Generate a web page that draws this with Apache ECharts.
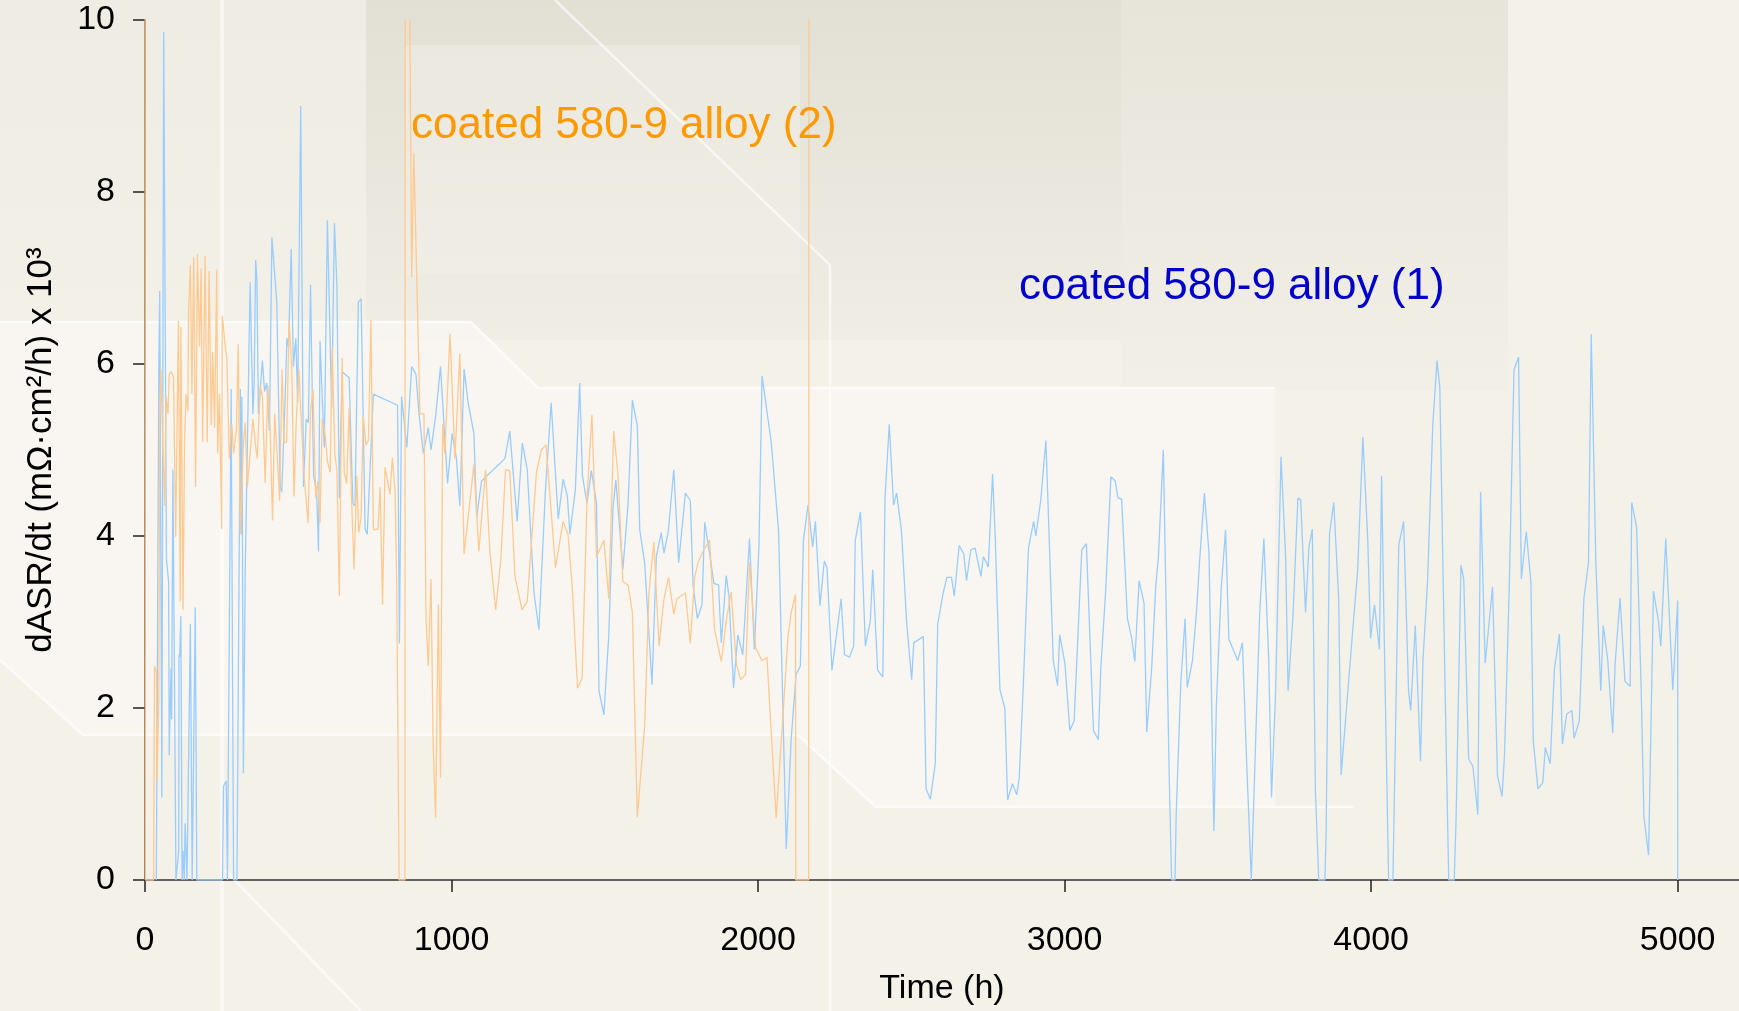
<!DOCTYPE html>
<html>
<head>
<meta charset="utf-8">
<script src="https://cdn.jsdelivr.net/npm/echarts@6/dist/echarts.min.js"></script>
<style>
  html, body { margin: 0; padding: 0; background: #f4f1e9; }
  #chart { width: 1739px; height: 1011px; }
</style>
</head>
<body>
<div id="chart"></div>
<script>
// coated 580-9 alloy (1) -- blue trace
var alloy1Hours = [37,39,45,48,55,61,70,77,79,85,87,91,101,104,110,111,113,117,121,124,128,131,137,142,148,154,159,164,169,253,256,265,269,274,281,289,300,311,313,316,321,327,343,352,356,361,365,370,383,390,397,406,414,430,441,446,455,463,468,477,484,492,498,508,517,526,533,540,550,560,566,571,580,585,595,609,618,626,634,643,666,678,685,696,705,718,725,745,824,830,837,854,870,884,894,908,924,933,949,964,987,1002,1016,1027,1041,1054,1073,1082,1098,1174,1190,1214,1231,1247,1269,1285,1306,1325,1348,1364,1378,1386,1404,1418,1427,1442,1456,1473,1481,1497,1513,1527,1536,1559,1576,1590,1606,1614,1630,1654,1668,1684,1693,1707,1725,1741,1747,1763,1779,1788,1802,1817,1826,1842,1856,1871,1880,1896,1905,1920,1934,1950,1972,1988,2003,2013,2043,2067,2092,2108,2124,2138,2148,2163,2178,2187,2202,2216,2225,2241,2271,2282,2298,2312,2317,2334,2350,2366,2374,2390,2407,2414,2428,2442,2452,2468,2485,2501,2508,2539,2548,2562,2578,2586,2604,2616,2631,2640,2656,2671,2680,2694,2708,2727,2735,2751,2765,2774,2789,2805,2814,2830,2844,2852,2866,2882,2899,2906,2922,2939,2963,2977,2984,3001,3017,3031,3056,3071,3094,3110,3118,3134,3151,3165,3174,3186,3205,3219,3229,3243,3259,3268,3284,3297,3306,3322,3341,3349,3360,3364,3379,3393,3400,3417,3430,3440,3456,3471,3487,3495,3511,3525,3536,3565,3580,3593,3609,3615,3636,3650,3666,3675,3688,3706,3721,3729,3745,3761,3770,3786,3797,3808,3818,3829,3849,3853,3864,3878,3894,3902,3918,3940,3956,3973,3989,3998,4011,4027,4034,4044,4057,4071,4090,4106,4122,4129,4144,4161,4169,4184,4201,4215,4224,4240,4253,4271,4277,4293,4302,4318,4332,4348,4357,4372,4396,4412,4427,4435,4450,4466,4481,4490,4506,4521,4529,4544,4560,4568,4584,4598,4614,4624,4638,4655,4662,4679,4694,4709,4718,4733,4749,4757,4772,4788,4796,4812,4828,4845,4850,4866,4881,4890,4905,4921,4937,4945,4961,4975,4984,5000,5000];
var alloy1Rate = [0,0,5.94,6.85,0.96,9.86,3.73,3.47,1.45,2.46,1.87,4.77,0,0,0.34,2.62,2.59,3.07,0,0.34,0,0.66,0,0,2.98,0,0,3.17,0,0,1.09,1.15,0,0,5.71,0,0,5.71,4.02,5.62,1.24,3.6,6.95,5.42,5.75,7.21,6.98,5.42,6.04,5.68,5.78,5.22,7.47,6.72,4.57,4.51,5.36,6.3,6.2,7.34,5.97,6.3,5.55,9.0,4.57,5.36,5.32,6.92,4.7,4.51,3.82,6.27,5.45,5.03,7.67,5.49,7.64,6.92,4.44,5.91,5.84,4.38,4.35,6.72,6.76,4.08,4.02,5.65,5.52,2.75,5.62,5.03,5.97,5.88,5.42,4.96,5.26,5.0,5.42,5.97,4.61,5.19,4.9,4.35,5.94,5.55,5.19,4.22,4.64,4.9,5.22,4.17,5.08,4.77,3.34,2.91,4.51,5.55,4.2,4.66,4.46,4.02,4.54,5.78,4.7,4.38,4.76,4.38,2.2,1.92,2.85,4.35,4.65,3.61,4.38,5.58,5.28,4.07,3.69,2.27,3.76,4.04,3.8,4.05,4.77,3.69,3.69,4.5,4.41,3.43,3.04,3.2,4.16,3.79,3.45,3.43,2.76,3.54,3.3,2.23,2.85,2.62,3.97,2.68,3.89,5.86,5.09,4.05,0.36,1.64,2.39,2.49,3.95,4.36,3.87,4.17,3.19,3.71,3.63,2.44,3.27,2.62,2.59,2.72,3.95,4.28,2.72,3.01,3.61,2.44,2.36,4.44,5.3,4.36,4.5,4.05,2.98,2.33,2.76,2.83,1.06,0.94,1.35,2.98,3.34,3.52,3.52,3.3,3.89,3.79,3.48,3.84,3.86,3.53,3.76,3.64,4.72,3.95,2.21,2.0,0.93,1.12,0.99,1.19,2.33,3.86,4.17,4.0,4.41,5.11,2.55,2.26,2.85,2.52,1.74,1.85,3.84,3.91,1.74,1.63,2.46,3.37,4.69,4.64,4.44,4.43,3.04,2.81,2.54,3.48,3.22,1.72,2.46,3.4,3.76,5.0,1.25,0,0,0.76,2.29,3.04,2.24,2.55,3.11,3.69,4.5,3.8,0.57,2.03,3.4,4.07,2.8,2.55,2.76,1.45,0,0,3.07,3.97,2.55,0.96,2.16,4.92,3.76,2.2,3.07,4.44,4.42,3.11,3.87,4.08,1.06,0,0,0.53,4.02,4.39,3.28,1.22,1.93,2.91,3.6,5.15,3.95,2.81,3.2,2.68,4.7,2.55,0,0,3.89,4.17,2.2,1.97,2.96,1.38,2.55,3.47,5.29,6.04,5.73,2.46,0,0,0.7,3.66,3.5,1.41,1.32,0.76,4.51,2.52,3.41,1.22,0.97,1.45,3.34,5.93,6.08,3.5,4.05,3.47,1.61,1.06,1.13,1.54,1.35,2.46,2.86,1.58,1.93,1.97,1.65,1.85,3.27,3.69,6.35,3.69,2.2,2.96,2.55,1.71,2.52,3.28,2.31,2.25,4.39,4.1,2.2,0.73,0.29,3.36,3.02,2.72,3.97,2.91,2.21,3.25,0];

// coated 580-9 alloy (2) -- orange trace
var alloy2Hours = [0,1,28,31,37,39,45,48,52,58,64,69,75,79,86,93,100,103,109,115,117,124,129,134,140,142,148,153,159,165,171,178,183,188,196,203,209,216,221,227,234,237,243,250,252,262,267,275,283,289,298,304,311,321,327,334,343,352,359,366,376,383,392,401,408,416,423,432,439,447,454,462,470,479,486,493,502,511,519,532,540,548,557,564,571,578,588,595,604,611,619,626,634,643,650,658,666,673,682,691,697,705,712,721,729,737,745,760,767,775,783,791,799,807,816,821,829,848,849,860,870,877,897,910,917,924,933,940,948,957,964,971,978,995,1011,1027,1041,1073,1089,1111,1125,1144,1161,1176,1190,1207,1230,1247,1277,1293,1308,1323,1339,1364,1380,1394,1411,1426,1442,1458,1473,1497,1513,1529,1543,1559,1576,1590,1606,1630,1644,1660,1677,1693,1708,1725,1735,1763,1779,1793,1804,1820,1842,1858,1880,1896,1912,1929,1943,1959,1972,1992,2013,2029,2059,2081,2097,2108,2122,2123,2165,2166];
var alloy2Rate = [12,0,0,2.49,2.42,1.15,2.03,5.36,5.94,5.09,4.35,5.62,5.42,5.88,5.91,5.84,3.99,3.99,6.5,3.24,6.43,3.14,5.09,5.65,5.45,6.59,7.15,5.65,7.24,4.57,7.28,6.2,7.11,5.09,7.26,5.09,7.08,5.29,6.14,5.26,7.1,4.96,5.65,4.08,6.56,6.2,6.07,4.9,5.3,4.96,5.22,6.23,4.02,5.06,5.32,4.57,4.96,5.36,5.1,4.9,5.75,5.62,4.62,5.75,5.26,4.18,5.42,4.9,4.41,5.94,5.09,5.09,6.5,5.94,4.46,5.29,5.94,5.26,4.7,4.15,5.45,5.71,4.44,4.64,4.15,5.36,5.16,4.87,4.74,6.2,4.96,4.77,3.3,6.07,4.74,4.61,5.49,4.52,3.61,4.7,4.04,4.22,5.39,5.06,5.11,6.51,4.07,4.08,4.57,3.2,4.8,4.64,4.48,4.91,4.51,3.47,0,0,12,12,7.01,8.45,5.42,5.42,3.01,2.49,3.5,1.58,0.72,3.2,1.19,5.3,4.96,6.35,4.9,6.12,3.79,4.83,3.82,4.77,3.82,3.14,3.73,4.77,4.76,3.53,3.14,3.24,4.74,5.0,5.06,4.38,3.63,4.17,4.02,3.4,2.23,2.35,4.44,5.41,3.76,3.95,3.27,5.22,4.72,3.47,3.43,3.11,0.73,1.79,3.34,3.93,2.72,3.27,3.52,3.09,3.27,3.34,2.75,3.52,3.69,3.82,3.95,2.91,2.54,3.01,3.35,2.52,2.33,2.39,3.69,2.7,2.55,2.59,0.72,1.9,2.81,3.11,3.32,0,0,12];

var timeTicks = [0, 1000, 2000, 3000, 4000, 5000];
var rateTicks = [0, 2, 4, 6, 8, 10];

function zip(xs, ys) { return xs.map(function(x, i) { return [x, ys[i]] }) }

var chart = echarts.init(document.getElementById('chart'), null, {renderer: 'canvas'});
var font = '"Liberation Sans", Arial, sans-serif';
var fade = function(top, bottom) {
  return new echarts.graphic.LinearGradient(0, 0, 0, 1, [{offset: 0, color: top}, {offset: 1, color: bottom}]);
};

chart.setOption({
  animation: false,
  backgroundColor: '#f4f1e9',
  graphic: [
    // soft background panels, like the slide template behind the plot
    {type: 'rect', z: -10, shape: {x: 0, y: 0, width: 366, height: 330}, style: {fill: fade('#efece4', '#f3f0e8')}},
    {type: 'rect', z: -10, shape: {x: 366, y: 0, width: 755, height: 340}, style: {fill: fade('#e2dfd4', '#f0ede5')}},
    {type: 'rect', z: -10, shape: {x: 405, y: 45, width: 395, height: 230}, style: {fill: '#f1eee7', opacity: 0.55}},
    {type: 'rect', z: -10, shape: {x: 1121, y: 0, width: 387, height: 390}, style: {fill: fade('#e7e4da', '#f2efe7')}},
    {type: 'polygon', z: -9, shape: {points: [[0, 322], [471, 322], [538, 388], [1275, 388], [1275, 807], [876, 807], [798, 735], [83, 735], [0, 660]]},
      style: {fill: '#fbfaf6', opacity: 0.6}},
    {type: 'polyline', z: -8, shape: {points: [[0, 322], [471, 322], [538, 388], [1275, 388]]}, style: {stroke: '#ffffff', lineWidth: 2.5, opacity: 0.7}},
    {type: 'polyline', z: -8, shape: {points: [[83, 735], [798, 735], [876, 807], [1353, 807]]}, style: {stroke: '#ffffff', lineWidth: 2.5, opacity: 0.7}},
    {type: 'polyline', z: -8, shape: {points: [[555, 0], [830, 265], [830, 1011]]}, style: {stroke: '#ffffff', lineWidth: 2.5, opacity: 0.6}},
    {type: 'polyline', z: -8, shape: {points: [[222, 0], [222, 1011]]}, style: {stroke: '#ffffff', lineWidth: 4, opacity: 0.5}},
    {type: 'polyline', z: -8, shape: {points: [[0, 660], [83, 735]]}, style: {stroke: '#ffffff', lineWidth: 2.5, opacity: 0.6}},
    {type: 'polyline', z: -8, shape: {points: [[225, 870], [361, 1011]]}, style: {stroke: '#ffffff', lineWidth: 3, opacity: 0.6}},
    // series annotations
    {type: 'text', z: 50, left: 411, top: 104, style: {text: 'coated 580-9 alloy (2)', fill: '#ff9900', font: '44px ' + font}},
    {type: 'text', z: 50, left: 1019, top: 265, style: {text: 'coated 580-9 alloy (1)', fill: '#0000cc', font: '44px ' + font}}
  ],
  grid: {left: 145, top: 20, width: 1596, height: 861, containLabel: false},
  xAxis: {
    type: 'value', min: 0, max: 5200, interval: 1000,
    name: 'Time (h)', nameLocation: 'middle', nameGap: 92,
    nameTextStyle: {fontFamily: font, fontSize: 34, color: '#000'},
    axisLine: {show: true, onZero: false, lineStyle: {color: '#333', width: 1.5}},
    axisTick: {show: true, inside: false, length: 12, lineStyle: {color: '#222', width: 1.5},
      customValues: timeTicks},
    axisLabel: {fontFamily: font, fontSize: 34, color: '#000', margin: 44,
      customValues: timeTicks, formatter: function(v) { return String(v) }},
    splitLine: {show: false}
  },
  yAxis: {
    type: 'value', min: 0, max: 10, interval: 2,
    name: 'dASR/dt (mΩ·cm²/h) x 10³', nameLocation: 'middle', nameGap: 86, nameRotate: 90,
    nameTextStyle: {fontFamily: font, fontSize: 35, color: '#000'},
    axisLine: {show: true, lineStyle: {color: '#333', width: 1.5}},
    axisTick: {show: true, inside: false, length: 12, lineStyle: {color: '#222', width: 1.5},
      customValues: rateTicks},
    axisLabel: {fontFamily: font, fontSize: 34, color: '#000', margin: 30,
      customValues: rateTicks, formatter: function(v) { return String(v) }},
    splitLine: {show: false}
  },
  series: [
    {name: 'coated 580-9 alloy (1)', type: 'line', data: zip(alloy1Hours, alloy1Rate), showSymbol: false,
      clip: true, lineStyle: {color: '#99ccff', width: 1.3}, itemStyle: {color: '#99ccff'}, z: 3},
    {name: 'coated 580-9 alloy (2)', type: 'line', data: zip(alloy2Hours, alloy2Rate), showSymbol: false,
      clip: true, lineStyle: {color: '#ffc98f', width: 1.3}, itemStyle: {color: '#ffc98f'}, z: 4}
  ]
});
</script>
</body>
</html>
